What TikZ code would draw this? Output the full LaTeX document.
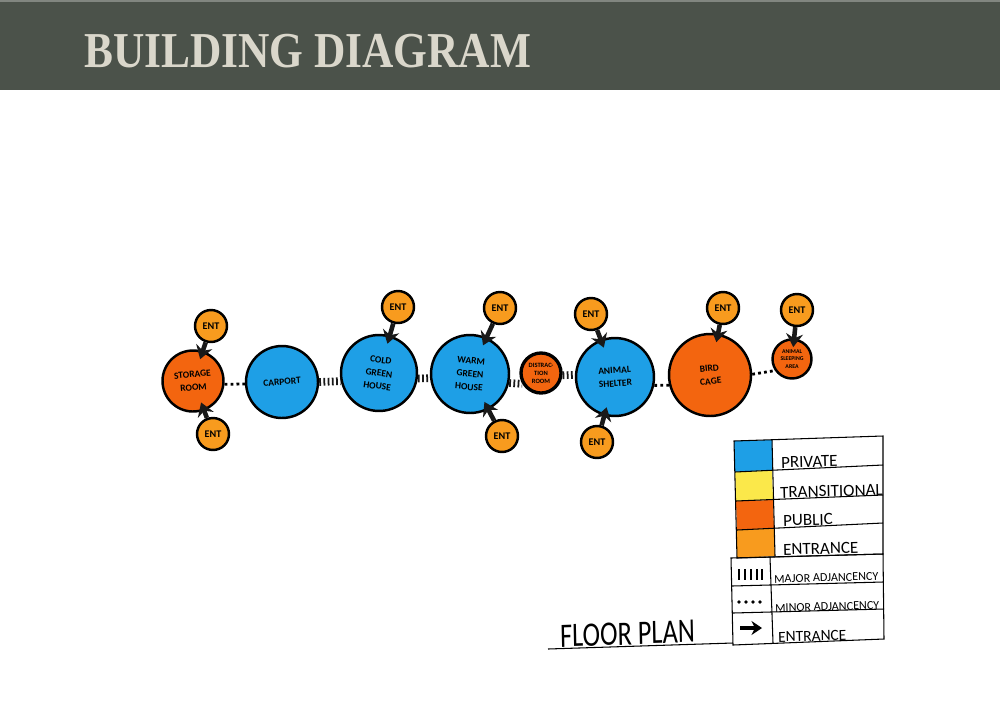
\documentclass[tikz,border=0pt]{standalone}
\usepackage{fontspec}
\setmainfont{Carlito}
\usepackage{tikz}
\usetikzlibrary{arrows.meta,positioning,calc}
\newfontfamily\titlefont{Liberation Serif}
\definecolor{barcol}{HTML}{4B524A}
\definecolor{titlecol}{HTML}{DAD7CB}
\definecolor{privcol}{HTML}{1E9FE6}
\definecolor{transcol}{HTML}{FBE84A}
\definecolor{pubcol}{HTML}{F3650F}
\definecolor{entcol}{HTML}{F89B1E}

\begin{document}
\begin{tikzpicture}[
    x=0.02cm, y=-0.02cm,
    >=Stealth,
    room/.style={circle, draw=black, line width=1.4pt, inner sep=0pt, align=center,
                 font=\bfseries\fontsize{5.4}{7.5}\selectfont},
    private/.style={room, fill=privcol},
    public/.style={room, fill=pubcol},
    entnode/.style={room, fill=entcol, minimum size=0.64cm, font=\bfseries\fontsize{5.8}{7}\selectfont},
    entarr/.style={-{Stealth[length=7.5pt,width=9.5pt]}, line width=2.6pt, draw=black!90, shorten >=-5pt},
    major/.style={line width=4.4pt, draw=black!90, dash pattern=on 1pt off 1.4pt},
    minor/.style={line width=1.6pt, draw=black, dash pattern=on 1.6pt off 1.8pt},
    cell/.style={draw=black, line width=0.6pt},
    lab/.style={anchor=base west, inner sep=0pt, rotate=1.5, font=\fontsize{9.7}{10}\selectfont},
    smalllab/.style={lab, font=\fontsize{6.9}{8}\selectfont}
  ]
  \useasboundingbox (0,0) rectangle (1000,707);
  % title bar
  \fill[barcol!70] (0,0) rectangle (1000,2);
  \fill[barcol] (0,2) rectangle (1000,90);
  \node[anchor=base west, inner sep=0pt, text=titlecol, xscale=0.863,
        font=\titlefont\bfseries\fontsize{28.6}{30}\selectfont] (title) at (84,67) {BUILDING DIAGRAM};

  % rooms
  \node[public, minimum size=1.22cm, rotate=5] (storage) at (193,381) {STORAGE\\ROOM};
  \node[private, minimum size=1.44cm, rotate=5] (carport) at (282,382) {CARPORT};
  \node[private, minimum size=1.52cm, rotate=-8] (cold) at (379,373) {COLD\\GREEN\\HOUSE};
  \node[private, minimum size=1.56cm, rotate=-5] (warm) at (470,374) {WARM\\GREEN\\HOUSE};
  \node[public, minimum size=0.8cm, line width=1.9pt, font=\bfseries\fontsize{3.7}{4.6}\selectfont] (distraction) at (541,373) {DISTRAC-\\TION\\ROOM};
  \node[private, minimum size=1.56cm, rotate=4] (shelter) at (615,377) {ANIMAL\\SHELTER};
  \node[public, minimum size=1.64cm, rotate=6] (bird) at (710,375) {BIRD\\CAGE};
  \node[public, minimum size=0.78cm, font=\bfseries\fontsize{3.3}{4.2}\selectfont] (sleeping) at (792,359) {ANIMAL\\SLEEPING\\AREA};

  % entrances
  \node[entnode] (ent1) at (211,326) {ENT};
  \node[entnode] (ent2) at (213,434) {ENT};
  \node[entnode] (ent3) at (398,307) {ENT};
  \node[entnode] (ent4) at (500,308) {ENT};
  \node[entnode] (ent5) at (502,436) {ENT};
  \node[entnode] (ent6) at (591,314) {ENT};
  \node[entnode] (ent7) at (597,442) {ENT};
  \node[entnode] (ent8) at (723,308) {ENT};
  \node[entnode] (ent9) at (797,310) {ENT};

  \draw[entarr] (ent1) -- (storage);
  \draw[entarr] (ent2) -- (storage);
  \draw[entarr] (ent3) -- (cold);
  \draw[entarr] (ent4) -- (warm);
  \draw[entarr] (ent5) -- (warm);
  \draw[entarr] (ent6) -- (shelter);
  \draw[entarr] (ent7) -- (shelter);
  \draw[entarr] (ent8) -- (bird);
  \draw[entarr] (ent9) -- (sleeping);

  % adjacencies
  \draw[minor] (storage.-11) -- (carport.178);
  \draw[major] (carport.-5) -- (cold.200);
  \draw[major] (cold.0) -- (warm.191);
  \draw[major] (warm.-8) -- (distraction.210);
  \draw[major] (distraction.-6) -- (shelter.173);
  \draw[minor] (shelter.-16) -- (bird.188);
  \draw[minor] (bird.-5) -- (sleeping.214);

  % legend swatches
  \fill[privcol] (734,441) -- (772,440) -- (772,470) -- (735,472) -- cycle;
  \fill[transcol] (735,472) -- (772,470) -- (773,500) -- (736,501) -- cycle;
  \fill[pubcol] (736,501) -- (773,500) -- (774,528) -- (737,530) -- cycle;
  \fill[entcol] (737,530) -- (774,528) -- (775,556) -- (737,558) -- cycle;

  % legend grid
  \draw[cell] (734,441) -- (883,436) -- (883,554) -- (737,558) -- cycle;
  \draw[cell] (772,440) -- (775,556);
  \draw[cell] (735,472) -- (883,465);
  \draw[cell] (736,501) -- (883,495);
  \draw[cell] (737,530) -- (883,523);
  \draw[cell] (731,558) -- (883,554) -- (884,639) -- (733,645) -- cycle;
  \draw[cell] (770,557) -- (773,643);
  \draw[cell] (732,586) -- (883,582);
  \draw[cell] (733,613) -- (884,609);
  \draw[cell] (548,649) -- (733,643);

  % legend symbols
  \foreach \tx in {739,745,751,757,762}
    \draw[line width=0.8pt] (\tx,569) -- (\tx,580);
  \foreach \dx in {739,746,753,760}
    \fill (\dx,602) circle (1.8);
  \coordinate (arra) at (740,628);
  \coordinate (arrb) at (762,628);
  \draw[-{Stealth[length=6pt,width=8pt]}, line width=2.4pt] (arra) -- (arrb);

  % legend text
  \node[lab] (lpriv) at (781,468) {PRIVATE};
  \node[lab] (ltrans) at (780,498) {TRANSITIONAL};
  \node[lab] (lpub) at (783,526) {PUBLIC};
  \node[lab] (lent) at (783,555) {ENTRANCE};
  \node[smalllab] (lmajor) at (774,583) {MAJOR ADJANCENCY};
  \node[smalllab] (lminor) at (775,612) {MINOR ADJANCENCY};
  \node[smalllab, font=\fontsize{8.8}{10}\selectfont] (larrow) at (778,642) {ENTRANCE};
  \node[anchor=base west, inner sep=0pt, yscale=1.3, rotate=1.5, font=\fontsize{15}{16}\selectfont] (floorplan) at (560,647) {FLOOR PLAN};
\end{tikzpicture}
\end{document}
